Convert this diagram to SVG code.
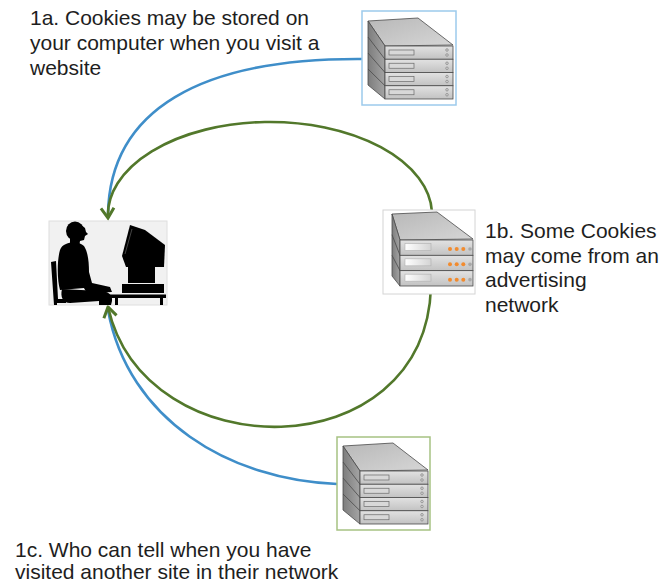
<svg xmlns="http://www.w3.org/2000/svg" xmlns:xlink="http://www.w3.org/1999/xlink" width="663" height="584" viewBox="0 0 663 584">
  <style>
    .lbl { font-family: "Liberation Sans", Arial, sans-serif; font-size: 21px; fill: #1e1e1e; }
    .blue { fill: none; stroke: #3f8ec9; stroke-width: 2.6; }
    .green { fill: none; stroke: #52782b; stroke-width: 2.6; }
    .edge { stroke: #4a4a4a; stroke-width: 0.8; }
    .sil { fill: #000; }
  </style>
  <defs>
    <linearGradient id="gTop" x1="0" y1="0" x2="1" y2="1">
      <stop offset="0" stop-color="#b8b8b8"/>
      <stop offset="1" stop-color="#d6d6d6"/>
    </linearGradient>
    <linearGradient id="gFront" x1="0" y1="0" x2="0" y2="1">
      <stop offset="0" stop-color="#e2e2e2"/>
      <stop offset="1" stop-color="#c2c2c2"/>
    </linearGradient>
    <linearGradient id="gSide" x1="0" y1="0" x2="1" y2="0">
      <stop offset="0" stop-color="#7d7d7d"/>
      <stop offset="1" stop-color="#a4a4a4"/>
    </linearGradient>
    <linearGradient id="gSlot" x1="0" y1="0" x2="1" y2="0">
      <stop offset="0" stop-color="#ffffff"/>
      <stop offset="1" stop-color="#d4d4d4"/>
    </linearGradient>
    <marker id="arrow" markerUnits="userSpaceOnUse" viewBox="-14 -10 18 20" markerWidth="18" markerHeight="20" refX="0" refY="0" orient="auto">
      <path d="M-10,-6.5 L0,0 L-10,6.5" fill="none" stroke="#52782b" stroke-width="3"/>
    </marker>

    <!-- one rack unit with a drive slot and two status dots -->
    <g id="unitPlain">
      <rect width="68" height="13.25" fill="url(#gFront)" class="edge"/>
      <rect x="4" y="4" width="25" height="5" fill="#d8d8d8" stroke="#6a6a6a" stroke-width="0.7"/>
      <circle cx="62" cy="4" r="1.3" fill="#cfcfcf" stroke="#7a7a7a" stroke-width="0.6"/>
      <circle cx="62" cy="9" r="1.3" fill="#cfcfcf" stroke="#7a7a7a" stroke-width="0.6"/>
    </g>
    <!-- four-unit server stack -->
    <g id="rack4">
      <polygon points="0,0 50,-3 85,24 17,25" fill="url(#gTop)" class="edge"/>
      <polygon points="0,0 17,25 17,78 0,64" fill="url(#gSide)" class="edge"/>
      <path d="M0,16 L17,38.25 M0,32 L17,51.5 M0,48 L17,64.75" class="edge" fill="none"/>
      <use xlink:href="#unitPlain" x="17" y="25"/>
      <use xlink:href="#unitPlain" x="17" y="38.25"/>
      <use xlink:href="#unitPlain" x="17" y="51.5"/>
      <use xlink:href="#unitPlain" x="17" y="64.75"/>
    </g>
    <!-- rack unit with orange activity lights -->
    <g id="unitLit">
      <rect width="73" height="15.33" fill="url(#gFront)" class="edge"/>
      <rect x="5" y="3.5" width="26" height="7" fill="url(#gSlot)" stroke="#b0b0b0" stroke-width="0.6"/>
      <circle cx="50" cy="9" r="2" fill="#f28b2e"/>
      <circle cx="56.7" cy="9" r="2" fill="#f28b2e"/>
      <circle cx="63.3" cy="9" r="2" fill="#f28b2e"/>
      <circle cx="70" cy="9" r="1.8" fill="#a8a8a8"/>
    </g>
  </defs>

  <rect width="663" height="584" fill="#ffffff"/>

  <!-- connectors -->
  <g id="connectors">
    <path class="blue" d="M362,59 C200,58 110,110 108,214"/>
    <path class="blue" d="M337,484 C230,480 128,420 108,310"/>
    <path class="green" d="M432,212 A162,93 0 0 0 108,218" marker-end="url(#arrow)"/>
    <path class="green" d="M431,287 C425,470 145,470 108,307" marker-end="url(#arrow)"/>
  </g>

  <!-- user at a desktop computer -->
  <g id="user">
    <rect x="49" y="221" width="118" height="84" fill="#f1f1f1" stroke="#dedede" stroke-width="1"/>
    <!-- chair -->
    <path class="sil" d="M51,262 L56,261 L58,299 L66,299 L66,303 L57,303 L57,305 L54,305 Z"/>
    <!-- head and neck -->
    <ellipse class="sil" cx="75" cy="231" rx="9" ry="9.5"/>
    <path class="sil" d="M80,224 L85,228 L86,232 L88,234 L85,236 L84,240 L80,241 L79,247 L70,247 L70,238 Z"/>
    <!-- torso and arm reaching the keyboard -->
    <path class="sil" d="M66,244 C72,241 80,242 84,246 C88,252 89,262 89,272 L92,283 L110,287 L112,292 L92,293 C88,293 85,291 84,288 L60,290 C57,280 57,260 60,250 C61,247 63,245 66,244 Z"/>
    <!-- legs -->
    <path class="sil" d="M62,289 L100,291 C108,291 113,295 112,301 L111,305 L99,305 L99,301 L70,303 C63,303 60,297 62,289 Z"/>
    <!-- desk -->
    <rect class="sil" x="92" y="294.5" width="74" height="3.5"/>
    <rect class="sil" x="115" y="298" width="3" height="7"/>
    <rect class="sil" x="160" y="298" width="3" height="7"/>
    <!-- monitor -->
    <path class="sil" d="M130,225 L145,230 L165,245 L164,267 L126,267 L122,256 Z"/>
    <path d="M132,229 L125,254" stroke="#555" stroke-width="0.8" fill="none"/>
    <rect class="sil" x="128" y="267" width="27" height="16"/>
    <rect class="sil" x="122" y="284" width="42" height="9"/>
  </g>

  <!-- web site server -->
  <g id="site-server">
    <rect x="362" y="11" width="94" height="94" fill="#ffffff" stroke="#9ccaec" stroke-width="1.5"/>
    <use xlink:href="#rack4" x="368" y="21"/>
  </g>

  <!-- advertising network server -->
  <g id="ad-server">
    <rect x="383" y="210" width="92" height="84" fill="#ffffff" stroke="#d4d4d4" stroke-width="1"/>
    <g transform="translate(392,214)">
      <polygon points="0,0 45,-2 81,25 8,26" fill="url(#gTop)" class="edge"/>
      <polygon points="0,0 8,26 8,72 0,62" fill="url(#gSide)" class="edge"/>
      <path d="M0,20.7 L8,41.33 M0,41.3 L8,56.67" class="edge" fill="none"/>
      <use xlink:href="#unitLit" x="8" y="26"/>
      <use xlink:href="#unitLit" x="8" y="41.33"/>
      <use xlink:href="#unitLit" x="8" y="56.67"/>
    </g>
  </g>

  <!-- other site server in the network -->
  <g id="network-server">
    <rect x="337" y="437" width="93" height="93" fill="#ffffff" stroke="#a6c283" stroke-width="1.5"/>
    <use xlink:href="#rack4" x="343" y="446"/>
  </g>

  <!-- captions -->
  <g id="caption-1a">
    <text class="lbl" x="30" y="25">1a. Cookies may be stored on</text>
    <text class="lbl" x="30" y="50">your computer when you visit a</text>
    <text class="lbl" x="30" y="75">website</text>
  </g>
  <g id="caption-1b">
    <text class="lbl" x="485" y="238">1b. Some Cookies</text>
    <text class="lbl" x="485" y="262.5">may come from an</text>
    <text class="lbl" x="485" y="287">advertising</text>
    <text class="lbl" x="485" y="311.5">network</text>
  </g>
  <g id="caption-1c">
    <text class="lbl" x="15" y="557">1c. Who can tell when you have</text>
    <text class="lbl" x="15" y="579">visited another site in their network</text>
  </g>
</svg>
